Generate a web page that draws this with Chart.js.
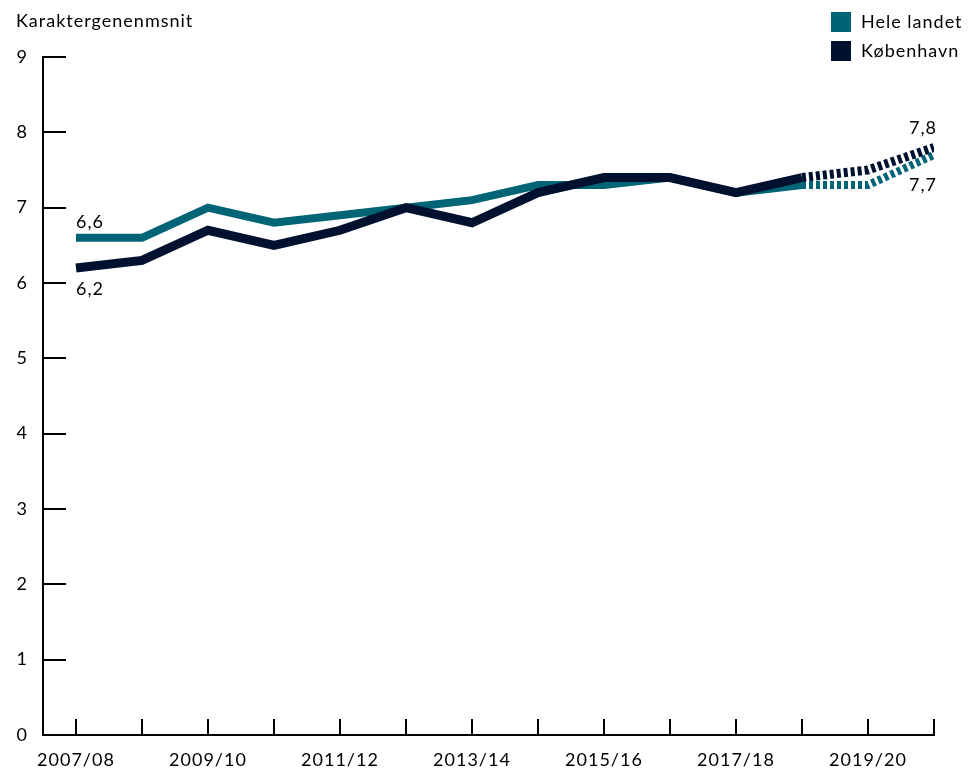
<!DOCTYPE html>
<html>
<head>
<meta charset="utf-8">
<script src="https://cdn.jsdelivr.net/npm/chart.js@4/dist/chart.umd.min.js"></script>
<style>
html,body{margin:0;padding:0;background:#fff;}
#wrap{width:968px;height:771px;position:relative;}
</style>
</head>
<body>
<div id="wrap"><canvas id="c" width="968" height="771"></canvas></div>
<script>
const categories = ["2007/08","2008/09","2009/10","2010/11","2011/12","2012/13","2013/14","2014/15","2015/16","2016/17","2017/18","2018/19","2019/20","2020/21"];
const heleLandet = [6.6,6.6,7.0,6.8,6.9,7.0,7.1,7.3,7.3,7.4,7.2,7.3,7.3,7.7];
const kobenhavn  = [6.2,6.3,6.7,6.5,6.7,7.0,6.8,7.2,7.4,7.4,7.2,7.4,7.5,7.8];
const seriesNames = ["Hele landet","København"];
const yTicks = [0,1,2,3,4,5,6,7,8,9];
const dashFrom = 11; // forecast segments start at 2018/19
const yTitle = "Karaktergenenmsnit";

const TEAL = "#006477";
const NAVY = "#00112f";
const FONT = "Lato, 'Open Sans', sans-serif";

function toXY(arr){ return arr.map((v,i)=>({x:i,y:v})); }
const dashSeg = { borderDash: ctx => ctx.p0DataIndex >= dashFrom ? [4,3] : undefined };

const spacing = {
  id:'spacing',
  beforeInit(chart){ chart.ctx.letterSpacing = '1px'; },
  beforeLayout(chart){ chart.ctx.letterSpacing = '1px'; },
  beforeDraw(chart){ chart.ctx.letterSpacing = '1px'; }
};

const decor = {
  id:'decor',
  afterDraw(chart){
    const ctx = chart.ctx;
    const xs = chart.scales.x, ys = chart.scales.y;
    const ca = chart.chartArea;
    ctx.save();
    ctx.letterSpacing = '1px';
    ctx.strokeStyle = '#000';
    ctx.lineWidth = 2;
    categories.forEach((c,i)=>{
      const px = Math.round(xs.getPixelForValue(i));
      ctx.beginPath(); ctx.moveTo(px, ca.bottom); ctx.lineTo(px, ca.bottom-16); ctx.stroke();
    });
    yTicks.forEach(v=>{
      const py = Math.round(ys.getPixelForValue(v));
      ctx.beginPath(); ctx.moveTo(ca.left, py); ctx.lineTo(ca.left+23, py); ctx.stroke();
    });
    ctx.fillStyle = '#000';
    ctx.font = "18px " + FONT;
    ctx.textBaseline = 'middle';
    ctx.textAlign = 'left';
    ctx.fillText(yTitle, 16, 21);
    const cols = [TEAL, NAVY];
    seriesNames.forEach((n,i)=>{
      const y = 12 + i*29;
      ctx.fillStyle = cols[i];
      ctx.fillRect(831, y, 20, 20);
      ctx.fillStyle = '#000';
      ctx.fillText(n, 861, y+10);
    });
    const mT = chart.getDatasetMeta(1).data;
    const mN = chart.getDatasetMeta(0).data;
    const last = categories.length-1;
    const fmt = v => String(v.toFixed(1)).replace('.', ',');
    ctx.textAlign = 'left';
    ctx.fillText(fmt(heleLandet[0]), mT[0].x, mT[0].y-16);
    ctx.fillText(fmt(kobenhavn[0]), mN[0].x, mN[0].y+21);
    ctx.textAlign = 'right';
    ctx.fillText(fmt(kobenhavn[last]), mN[last].x+3, mN[last].y-19);
    ctx.fillText(fmt(heleLandet[last]), mT[last].x+3, mT[last].y+30);
    ctx.restore();
  }
};

new Chart(document.getElementById('c'), {
  type:'line',
  data:{
    datasets:[
      {label:seriesNames[1], data:toXY(kobenhavn), borderColor:NAVY, backgroundColor:NAVY, borderWidth:9, pointRadius:0, tension:0, order:0, segment:dashSeg, borderJoinStyle:'miter', borderCapStyle:'butt'},
      {label:seriesNames[0], data:toXY(heleLandet), borderColor:TEAL, backgroundColor:TEAL, borderWidth:8, pointRadius:0, tension:0, order:1, segment:dashSeg, borderJoinStyle:'miter', borderCapStyle:'butt'}
    ]
  },
  options:{
    responsive:false,
    animation:false,
    layout:{padding:{top:57,right:34,left:0,bottom:0}},
    plugins:{legend:{display:false}, tooltip:{enabled:false}},
    scales:{
      x:{
        type:'linear', min:-0.5, max:categories.length-1,
        grid:{display:false, drawTicks:false},
        border:{display:true, color:'#000', width:2},
        afterBuildTicks(s){ s.ticks = categories.map((c,i)=>({value:i})); },
        afterFit(s){ s.height = 36; },
        ticks:{
          autoSkip:false, maxRotation:0, padding:14,
          color:'#000', font:{family:FONT, size:18},
          callback:(v)=> (v%2===0 ? categories[v] : '')
        }
      },
      y:{
        min:0, max:9,
        grid:{display:false, drawTicks:false},
        border:{display:true, color:'#000', width:2},
        afterBuildTicks(s){ s.ticks = yTicks.map(v=>({value:v})); },
        afterFit(s){ s.width = 43; },
        ticks:{padding:15, color:'#000', font:{family:FONT, size:18}}
      }
    }
  },
  plugins:[spacing, decor]
});
</script>
</body>
</html>
